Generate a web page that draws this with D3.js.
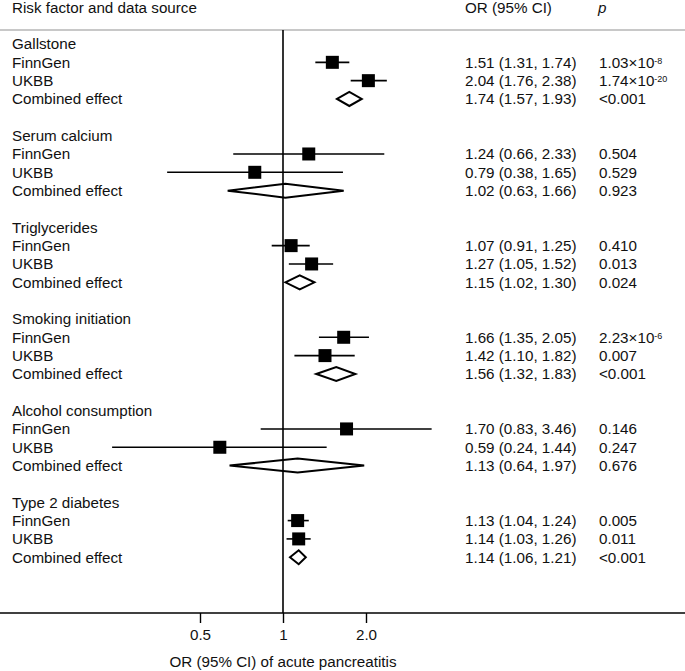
<!DOCTYPE html>
<html>
<head>
<meta charset="utf-8">
<script src="https://cdn.jsdelivr.net/npm/d3@7"></script>
<style>
  html, body { margin: 0; padding: 0; background: #fff; }
  svg text { font-family: "Liberation Sans", Arial, Helvetica, sans-serif; font-size: 15.2px; fill: #111; }
</style>
</head>
<body>
<div id="chart"></div>
<script>
// risk factors, each has FinnGen / UKBB / Combined effect rows
const groups = ["Gallstone", "Serum calcium", "Triglycerides", "Smoking initiation", "Alcohol consumption", "Type 2 diabetes"];
const sources = ["FinnGen", "UKBB", "Combined effect"];

// [OR, lower, upper] per group, same order as sources
const finngen = [[1.51, 1.31, 1.74], [1.24, 0.66, 2.33], [1.07, 0.91, 1.25], [1.66, 1.35, 2.05], [1.70, 0.83, 3.46], [1.13, 1.04, 1.24]];
const ukbb    = [[2.04, 1.76, 2.38], [0.79, 0.38, 1.65], [1.27, 1.05, 1.52], [1.42, 1.10, 1.82], [0.59, 0.24, 1.44], [1.14, 1.03, 1.26]];
const combined= [[1.74, 1.57, 1.93], [1.02, 0.63, 1.66], [1.15, 1.02, 1.30], [1.56, 1.32, 1.83], [1.13, 0.64, 1.97], [1.14, 1.06, 1.21]];

// p values as printed ("^" marks the exponent)
const pFinngen  = ["1.03×10^-8", "0.504", "0.410", "2.23×10^-6", "0.146", "0.005"];
const pUkbb     = ["1.74×10^-20", "0.529", "0.013", "0.007", "0.247", "0.011"];
const pCombined = ["<0.001", "0.923", "0.024", "<0.001", "0.676", "<0.001"];

const tickValues = [0.5, 1, 2];
const tickLabels = ["0.5", "1", "2.0"];

const W = 685, H = 671;
const ROWS_PER_GROUP = 5;

const svg = d3.select("#chart").append("svg")
  .attr("width", W)
  .attr("height", H);

const x = d3.scaleLog().base(2).domain([0.5, 2]).range([200, 366]);
const y = d3.scaleLinear().domain([0, 29]).range([44, 44 + 29 * 18.33]);
const axisY = 613;

// flatten into rows
const rows = [];
groups.forEach((g, i) => {
  const sets = [finngen[i], ukbb[i], combined[i]];
  const ps = [pFinngen[i], pUkbb[i], pCombined[i]];
  sets.forEach((v, k) => {
    rows.push({ group: g, label: sources[k], est: v[0], lo: v[1], hi: v[2], p: ps[k],
      combined: k === 2, idx: i * ROWS_PER_GROUP + k + 1 });
  });
});

const fmt = d3.format(".2f");

// header
svg.append("text").attr("x", 12).attr("y", 8).attr("dy", "0.35em").text("Risk factor and data source");
svg.append("text").attr("x", 465).attr("y", 8).attr("dy", "0.35em").text("OR (95% CI)");
svg.append("text").attr("x", 598).attr("y", 8).attr("dy", "0.35em").style("font-style", "italic").text("p");

svg.append("line")
  .attr("x1", 0).attr("x2", W).attr("y1", 30).attr("y2", 30)
  .attr("stroke", "#c8c8c8").attr("stroke-width", 2);

// group titles
svg.append("g").selectAll("text")
  .data(groups)
  .join("text")
    .attr("x", 12)
    .attr("y", (d, i) => y(i * ROWS_PER_GROUP))
    .attr("dy", "0.35em")
    .text(d => d);

// row labels + OR text + p text
const rowText = svg.append("g").selectAll("g")
  .data(rows)
  .join("g")
    .attr("transform", d => `translate(0,${y(d.idx)})`);

rowText.append("text").attr("x", 12).attr("dy", "0.35em").text(d => d.label);
rowText.append("text").attr("x", 465).attr("dy", "0.35em")
  .text(d => `${fmt(d.est)} (${fmt(d.lo)}, ${fmt(d.hi)})`);

rowText.append("text").attr("x", 599).attr("dy", "0.35em")
  .each(function(d) {
    const t = d3.select(this);
    const parts = d.p.split("^");
    t.append("tspan").text(parts[0]);
    if (parts.length > 1) {
      t.append("tspan").attr("dy", "-0.45em").style("font-size", "9px").text(parts[1]);
    }
  });

// CI lines
const marks = svg.append("g");
marks.selectAll("line.ci")
  .data(rows.filter(d => !d.combined))
  .join("line")
    .attr("class", "ci")
    .attr("x1", d => x(d.lo)).attr("x2", d => x(d.hi))
    .attr("y1", d => y(d.idx)).attr("y2", d => y(d.idx))
    .attr("stroke", "#000").attr("stroke-width", 1.6);

// squares
const sq = 13;
marks.selectAll("rect")
  .data(rows.filter(d => !d.combined))
  .join("rect")
    .attr("x", d => x(d.est) - sq / 2)
    .attr("y", d => y(d.idx) - sq / 2)
    .attr("width", sq).attr("height", sq)
    .attr("fill", "#000");

// diamonds for combined
marks.selectAll("path.diamond")
  .data(rows.filter(d => d.combined))
  .join("path")
    .attr("class", "diamond")
    .attr("d", d => {
      const cy = y(d.idx), h = 7;
      return `M${x(d.lo)},${cy}L${x(d.est)},${cy - h}L${x(d.hi)},${cy}L${x(d.est)},${cy + h}Z`;
    })
    .attr("fill", "none")
    .attr("stroke", "#000").attr("stroke-width", 2);

// reference line at OR = 1
svg.append("line")
  .attr("x1", x(1)).attr("x2", x(1)).attr("y1", 30).attr("y2", axisY)
  .attr("stroke", "#000").attr("stroke-width", 1.6);

// x axis, full width baseline
svg.append("line")
  .attr("x1", 0).attr("x2", W).attr("y1", axisY).attr("y2", axisY)
  .attr("stroke", "#000").attr("stroke-width", 1.6);

const axis = d3.axisBottom(x)
  .tickValues(tickValues)
  .tickFormat((d, i) => tickLabels[i])
  .tickSize(10)
  .tickPadding(6);

svg.append("g")
  .attr("transform", `translate(0,${axisY})`)
  .call(axis)
  .call(g => g.select(".domain").remove())
  .call(g => g.selectAll(".tick line").attr("stroke", "#000").attr("stroke-width", 1.4))
  .call(g => g.selectAll(".tick text").attr("font-size", null).attr("font-family", null).attr("fill", null));

svg.append("text")
  .attr("x", x(1)).attr("y", 662)
  .attr("dy", "0.35em")
  .attr("text-anchor", "middle")
  .text("OR (95% CI) of acute pancreatitis");
</script>
</body>
</html>
